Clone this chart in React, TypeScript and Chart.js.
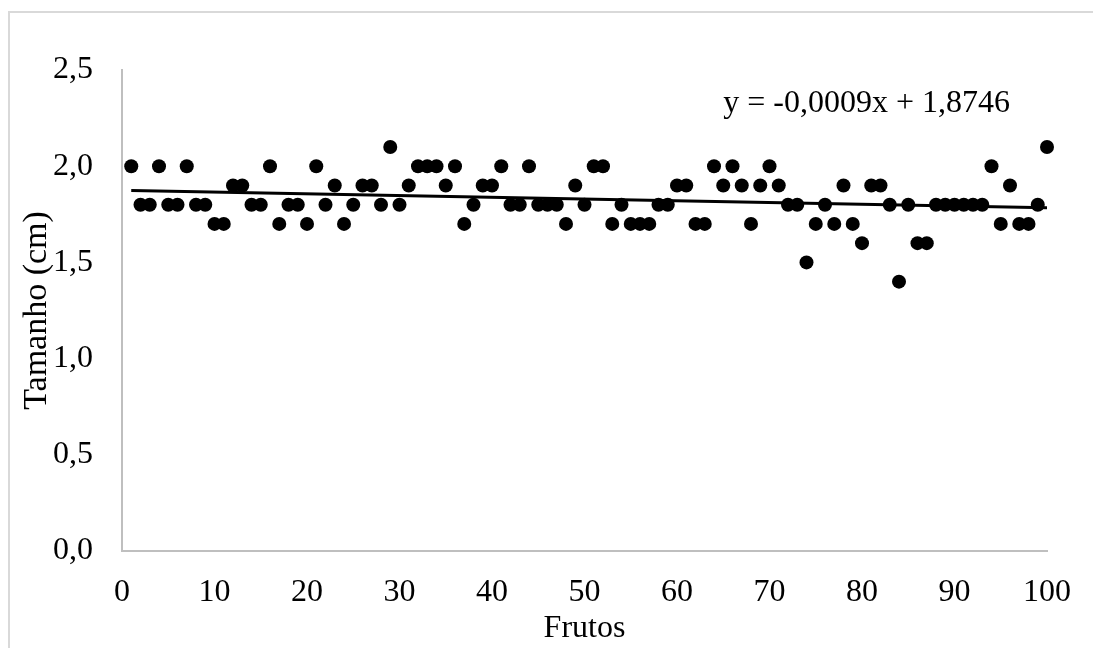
import React, { useEffect, useRef } from 'react';
import { Chart, registerables } from 'chart.js';

Chart.register(...registerables);

const frutos = [
  1, 2, 3, 4, 5, 6, 7, 8, 9, 10,
  11, 12, 13, 14, 15, 16, 17, 18, 19, 20,
  21, 22, 23, 24, 25, 26, 27, 28, 29, 30,
  31, 32, 33, 34, 35, 36, 37, 38, 39, 40,
  41, 42, 43, 44, 45, 46, 47, 48, 49, 50,
  51, 52, 53, 54, 55, 56, 57, 58, 59, 60,
  61, 62, 63, 64, 65, 66, 67, 68, 69, 70,
  71, 72, 73, 74, 75, 76, 77, 78, 79, 80,
  81, 82, 83, 84, 85, 86, 87, 88, 89, 90,
  91, 92, 93, 94, 95, 96, 97, 98, 99, 100,
];

const tamanho = [
  2.0, 1.8, 1.8, 2.0, 1.8, 1.8, 2.0, 1.8, 1.8, 1.7,
  1.7, 1.9, 1.9, 1.8, 1.8, 2.0, 1.7, 1.8, 1.8, 1.7,
  2.0, 1.8, 1.9, 1.7, 1.8, 1.9, 1.9, 1.8, 2.1, 1.8,
  1.9, 2.0, 2.0, 2.0, 1.9, 2.0, 1.7, 1.8, 1.9, 1.9,
  2.0, 1.8, 1.8, 2.0, 1.8, 1.8, 1.8, 1.7, 1.9, 1.8,
  2.0, 2.0, 1.7, 1.8, 1.7, 1.7, 1.7, 1.8, 1.8, 1.9,
  1.9, 1.7, 1.7, 2.0, 1.9, 2.0, 1.9, 1.7, 1.9, 2.0,
  1.9, 1.8, 1.8, 1.5, 1.7, 1.8, 1.7, 1.9, 1.7, 1.6,
  1.9, 1.9, 1.8, 1.4, 1.8, 1.6, 1.6, 1.8, 1.8, 1.8,
  1.8, 1.8, 1.8, 2.0, 1.7, 1.9, 1.7, 1.7, 1.8, 2.1,
];

const xTickLabels = ['0', '10', '20', '30', '40', '50', '60', '70', '80', '90', '100'];
const yTickLabels = ['0,0', '0,5', '1,0', '1,5', '2,0', '2,5'];

const trendSlope = -0.0009;
const trendIntercept = 1.8746;
const trendX = [1, 100];
const equationText = 'y = -0,0009x + 1,8746';
const equationAt = { x: 65, y: 2.282 };

const xTitle = 'Frutos';
const yTitle = 'Tamanho (cm)';

const FONT = '"Liberation Serif", "Times New Roman", serif';

const framePlugin = {
  id: 'frameAndEquation',
  beforeDraw(chart: any) {
    const ctx = chart.ctx;
    ctx.save();
    ctx.fillStyle = '#ffffff';
    ctx.fillRect(0, 0, chart.width, chart.height);
    ctx.strokeStyle = '#d9d9d9';
    ctx.lineWidth = 2;
    ctx.beginPath();
    ctx.moveTo(9, chart.height + 5);
    ctx.lineTo(9, 12);
    ctx.lineTo(chart.width + 5, 12);
    ctx.stroke();
    ctx.restore();
  },
  afterDatasetsDraw(chart: any) {
    const { ctx } = chart;
    const xs = chart.scales.x;
    const ys = chart.scales.y;
    ctx.save();
    ctx.font = `32px ${FONT}`;
    ctx.fillStyle = '#000000';
    ctx.textAlign = 'left';
    ctx.textBaseline = 'alphabetic';
    ctx.fillText(equationText, xs.getPixelForValue(equationAt.x), ys.getPixelForValue(equationAt.y));
    ctx.restore();
  },
};

export default function App() {
  const canvasRef = useRef<HTMLCanvasElement | null>(null);

  useEffect(() => {
    const canvas = canvasRef.current;
    if (!canvas) return;
    const chart = new Chart(canvas, {
      type: 'scatter',
      data: {
        datasets: [
          {
            type: 'line',
            label: 'Tendência',
            data: trendX.map((x) => ({ x, y: trendSlope * x + trendIntercept })),
            borderColor: '#000000',
            borderWidth: 3,
            pointRadius: 0,
            showLine: true,
            fill: false,
            clip: false,
          } as any,
          {
            label: 'Tamanho',
            data: frutos.map((x, i) => ({ x, y: tamanho[i] })),
            backgroundColor: '#000000',
            borderColor: '#000000',
            borderWidth: 0,
            pointRadius: 7,
            pointHoverRadius: 7,
            clip: false,
          } as any,
        ],
      },
      options: {
        animation: false,
        responsive: false,
        devicePixelRatio: 1,
        events: [],
        layout: { padding: { top: 70, right: 46, bottom: 0, left: 0 } },
        plugins: {
          legend: { display: false },
          tooltip: { enabled: false },
          title: { display: false },
        },
        scales: {
          x: {
            type: 'linear',
            min: 0,
            max: 100,
            afterFit: (s: any) => {
              s.height = 97;
            },
            ticks: {
              stepSize: 10,
              color: '#000000',
              padding: 22,
              font: { family: FONT, size: 32, lineHeight: 1.2 },
              maxRotation: 0,
              autoSkip: false,
              callback: (v: any) => xTickLabels[Math.round(Number(v) / 10)] ?? '',
            },
            grid: { display: false, drawTicks: false },
            border: { display: true, color: '#bfbfbf', width: 2 },
            title: {
              display: true,
              text: xTitle,
              color: '#000000',
              font: { family: FONT, size: 32, lineHeight: 1.2 },
              padding: { top: 0, bottom: 0 },
            },
          },
          y: {
            type: 'linear',
            min: 0,
            max: 2.5,
            afterFit: (s: any) => {
              s.width = 122;
            },
            ticks: {
              stepSize: 0.5,
              color: '#000000',
              padding: 29,
              font: { family: FONT, size: 32, lineHeight: 1.2 },
              callback: (v: any) => yTickLabels[Math.round(Number(v) / 0.5)] ?? '',
            },
            grid: { display: false, drawTicks: false },
            border: { display: true, color: '#bfbfbf', width: 2 },
            title: {
              display: true,
              text: yTitle,
              color: '#000000',
              font: { family: FONT, size: 34, lineHeight: 1.2 },
              padding: { top: 17, bottom: 0 },
            },
          },
        },
      },
      plugins: [framePlugin],
    });
    return () => {
      chart.destroy();
    };
  }, []);

  return (
    <div style={{ position: 'fixed', left: 0, top: 0, width: 1093, height: 648, background: '#fff' }}>
      <canvas ref={canvasRef} width={1093} height={648} style={{ display: 'block' }} />
    </div>
  );
}
